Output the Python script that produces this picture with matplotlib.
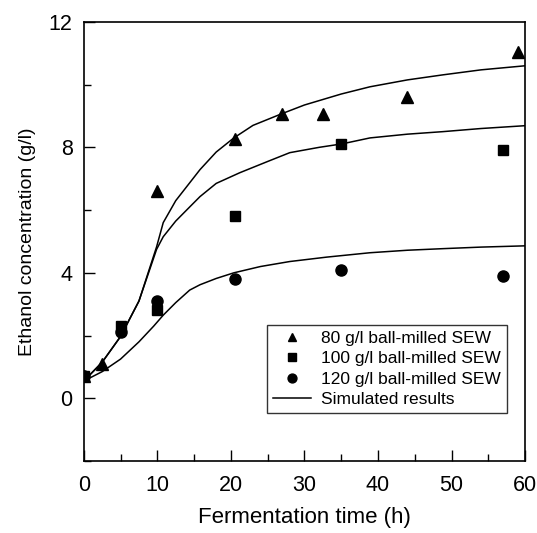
import numpy as np
import matplotlib
matplotlib.use("Agg")
import matplotlib.pyplot as plt
from matplotlib.ticker import MultipleLocator

plt.rcParams['font.family'] = ['Liberation Sans', 'DejaVu Sans']

# measured data
t_80 = [0, 2.5, 10, 20.5, 27, 32.5, 44, 59]
c_80 = [0.7, 1.1, 6.6, 8.25, 9.05, 9.05, 9.6, 11.05]
t_100 = [0, 5, 10, 20.5, 35, 57]
c_100 = [0.7, 2.3, 2.8, 5.8, 8.1, 7.9]
t_120 = [0, 5, 10, 20.5, 35, 57]
c_120 = [0.7, 2.1, 3.1, 3.8, 4.1, 3.9]

# simulated curves
sim_t1 = [0, 2.5, 5, 7.5, 9.9, 10.8, 12.5, 14.4, 15.8, 18, 20.4, 23, 26.9, 30, 35, 38.9, 44, 48.8, 54, 60]
sim_c1 = [0.55, 1.15, 1.97, 3.1, 4.83, 5.6, 6.3, 6.87, 7.29, 7.85, 8.3, 8.7, 9.07, 9.35, 9.7, 9.93, 10.15, 10.31, 10.47, 10.6]
sim_t2 = [0, 2.5, 5, 7.5, 9.9, 10.8, 12.5, 14.4, 15.8, 18, 21.2, 25, 28, 32, 35.1, 38.9, 44, 48.8, 54, 60]
sim_c2 = [0.55, 1.15, 1.97, 3.1, 4.75, 5.15, 5.65, 6.1, 6.43, 6.85, 7.19, 7.55, 7.83, 8.0, 8.11, 8.3, 8.42, 8.5, 8.6, 8.69]
sim_t3 = [0, 2.5, 5, 7.5, 9.5, 10.8, 12.5, 14.4, 15.8, 18, 20.4, 24, 28, 33, 38.9, 44, 48.8, 54, 60]
sim_c3 = [0.55, 0.85, 1.25, 1.8, 2.3, 2.65, 3.05, 3.45, 3.62, 3.82, 4.0, 4.2, 4.36, 4.5, 4.64, 4.72, 4.77, 4.82, 4.86]

fig = plt.figure(figsize=(5.37, 5.33), dpi=100)
ax = fig.add_axes([0.156, 0.135, 0.822, 0.824])

ax.plot(sim_t1, sim_c1, color='black', lw=1.1)
ax.plot(sim_t2, sim_c2, color='black', lw=1.1)
ax.plot(sim_t3, sim_c3, color='black', lw=1.1, label='Simulated results')

ax.plot(t_80, c_80, '^', color='black', ms=8, label='80 g/l ball-milled SEW')
ax.plot(t_100, c_100, 's', color='black', ms=7, label='100 g/l ball-milled SEW')
ax.plot(t_120, c_120, 'o', color='black', ms=8, label='120 g/l ball-milled SEW')

ax.set_xlim(0, 60)
ax.set_ylim(-2, 12)
ax.xaxis.set_major_locator(MultipleLocator(10))
ax.xaxis.set_minor_locator(MultipleLocator(5))
ax.set_yticks([0, 4, 8, 12])
ax.yaxis.set_minor_locator(MultipleLocator(2))
ax.tick_params(which='major', direction='in', length=8, width=1, labelsize=15.5)
ax.tick_params(axis='x', which='major', pad=10)
ax.tick_params(axis='y', which='major', pad=8)
ax.tick_params(which='minor', direction='in', length=5, width=1)
for s in ax.spines.values():
    s.set_linewidth(1.2)

ax.set_xlabel('Fermentation time (h)', fontsize=16, labelpad=8)
ax.set_ylabel('Ethanol concentration (g/l)', fontsize=14, labelpad=9)

h, l = ax.get_legend_handles_labels()
order = [1, 2, 3, 0]
leg = ax.legend([h[i] for i in order], [l[i] for i in order], loc='lower right',
                bbox_to_anchor=(0.959, 0.109), fontsize=12.5, frameon=True, fancybox=False,
                edgecolor='black', handlelength=2.2, handletextpad=0.6,
                borderpad=0.35, labelspacing=0.3, markerscale=0.8, borderaxespad=0)
leg.get_frame().set_linewidth(1)

fig.savefig('out.png', dpi=100)
